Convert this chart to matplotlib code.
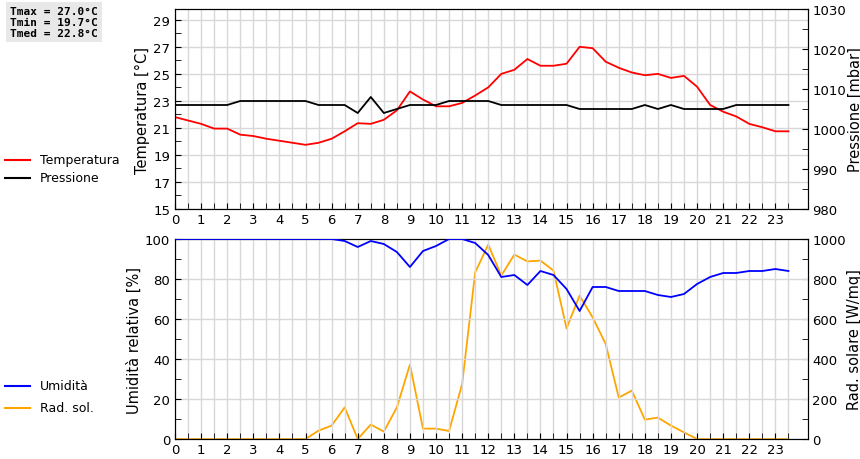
import matplotlib
matplotlib.use("Agg")
import matplotlib.pyplot as plt
import numpy as np

hours = np.arange(48) * 0.5
temperatura = [21.8,21.55,21.3,20.95,20.95,20.5,20.4,20.2,20.05,19.9,19.75,19.9,20.2,20.75,21.35,21.3,
               21.6,22.3,23.7,23.1,22.6,22.6,22.85,23.4,24.0,25.0,25.3,26.1,25.6,25.6,25.75,27.0,
               26.9,25.9,25.45,25.1,24.9,25.0,24.7,24.85,24.05,22.7,22.2,21.85,21.3,21.05,20.75,20.75]
pressione = [1006]*5 + [1007]*6 + [1006]*3 + [1004,1008,1004,1005,1006,1006,1006,1007,1007,1007,1007] \
            + [1006]*6 + [1005]*5 + [1006,1005,1006] + [1005]*4 + [1006]*5
umidita = [100]*13 + [99,96,99,97.5,93.5,86,94,96.5,100,100,98,92,81,82,77,84,82,75,64,76,76,74,74,74,
                      72,71,72.5,77.5,81,83,83,84,84,85,84]
rad_sol = [0]*11 + [42,67,158,0,72,37,158,372,52,52,40,275,833,972,817,922,888,892,842,553,717,608,475,
                    207,242,97,107,67,33,0] + [0]*7
xticks = list(range(24))
stats_text = ["Tmax = 27.0°C", "Tmin = 19.7°C", "Tmed = 22.8°C"]

fig = plt.figure(figsize=(8.6, 4.6), dpi=100)
W, H = 860, 460
def ax_at(l, t, r, b):
    return fig.add_axes([l / W, 1 - b / H, (r - l) / W, (b - t) / H])

XMAX = 24.25
grid_c = "#d8d8d8"
TS = 9.5
LS = 10.5

def style(ax):
    ax.set_xlim(0, XMAX)
    ax.set_xticks(xticks)
    ax.set_xticks(np.arange(0.5, 24, 0.5), minor=True)
    ax.grid(True, which="both", axis="x", color=grid_c, lw=1)
    ax.grid(True, which="major", axis="y", color=grid_c, lw=1)
    ax.set_axisbelow(True)
    ax.tick_params(direction="in", which="both", labelsize=TS, length=4, top=False)
    ax.tick_params(axis="x", pad=3)

# Top panel
ax1 = ax_at(175, 10, 808, 210)
ax1.plot(hours, temperatura, color="red", lw=1.3)
ax1.set_ylim(15, 29.8)
ax1.set_yticks(range(15, 30, 2))
ax1.set_yticks(range(16, 30, 2), minor=True)
style(ax1)
ax1.set_ylabel("Temperatura [°C]", fontsize=LS, labelpad=2)
ax1b = ax1.twinx()
ax1b.plot(hours, pressione, color="black", lw=1.3)
ax1b.set_ylim(980, 1030)
ax1b.set_yticks(range(980, 1031, 10))
ax1b.set_yticks(range(985, 1030, 10), minor=True)
ax1b.tick_params(direction="in", which="both", labelsize=TS, length=4, pad=3)
ax1b.set_ylabel("Pressione [mbar]", fontsize=LS, labelpad=1)

# Bottom panel
ax2 = ax_at(175, 240, 808, 440)
ax2.plot(hours, umidita, color="blue", lw=1.3, zorder=3)
ax2.set_ylim(0, 100)
ax2.set_yticks(range(0, 101, 20))
ax2.set_yticks(range(10, 100, 20), minor=True)
style(ax2)
ax2.set_ylabel("Umidità relativa [%]", fontsize=LS, labelpad=2)
ax2b = ax2.twinx()
ax2b.plot(hours, rad_sol, color="orange", lw=1.3)
ax2b.set_ylim(0, 1000)
ax2b.set_yticks(range(0, 1001, 200))
ax2b.set_yticks(range(100, 1000, 200), minor=True)
ax2b.tick_params(direction="in", which="both", labelsize=TS, length=4, pad=3)
ax2b.set_ylabel("Rad. solare [W/mq]", fontsize=LS, labelpad=1)
ax2.set_zorder(ax2b.get_zorder() + 1)
ax2.patch.set_visible(False)

# Legends (figure coordinates)
def leg(y, color, label):
    fig.add_artist(plt.Line2D([5 / W, 30 / W], [1 - y / H] * 2, color=color, lw=1.5))
    fig.text(40 / W, 1 - y / H, label, fontsize=9, va="center")
leg(161, "red", "Temperatura")
leg(179, "black", "Pressione")
leg(387, "blue", "Umidità")
leg(409, "orange", "Rad. sol.")

fig.text(10 / W, 1 - 23 / H, "\n".join(stats_text),
         family="DejaVu Sans Mono", fontsize=8, fontweight="bold", va="center", linespacing=1.15,
         bbox=dict(facecolor="#e8e8e8", edgecolor="none", pad=3))

fig.savefig("out.png", dpi=100)
